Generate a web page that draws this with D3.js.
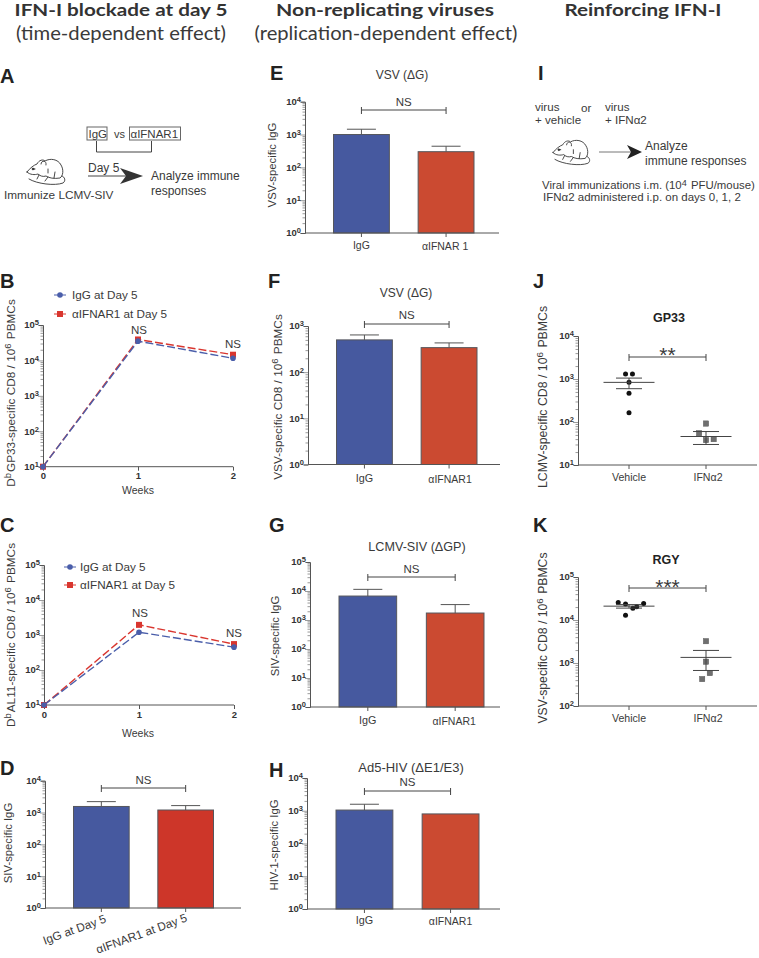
<!DOCTYPE html>
<html><head><meta charset="utf-8">
<script src="https://cdnjs.cloudflare.com/ajax/libs/d3/7.8.5/d3.min.js"></script>
<style>html,body{margin:0;background:#fff}svg{display:block}text{font-family:"Liberation Sans",Arial,sans-serif;fill:#3a3a3a}</style>
</head><body>
<svg id="c" width="759" height="958"></svg>
<script>
// ---------- data ----------
const weeks=[0,1,2];
const bIgG=[10,35000,11500];
const bAnti=[10,39000,14500];
const cIgG=[10,1200,450];
const cAnti=[10,1950,550];
const legendLabels=["IgG at Day 5","αIFNAR1 at Day 5"];
const dCats=["IgG at Day 5","αIFNAR1 at Day 5"];
const barCats=["IgG","αIFNAR1"];
const dValues=[1550,1200], dErrTop=[2200,1650];
const eValues=[1000,300], eErrTop=[1450,440];
const fValues=[500,340], fErrTop=[640,430];
const gValues=[6700,1740], gErrTop=[11400,3400];
const hValues=[1050,800], hErrTop=[1580,null];
const dotCats=["Vehicle","IFNα2"];
const jVehicle=[1300,1300,835,465,165];
const jVehicleX=[-0.045,0.045,0,0,0];
const jIfn=[92,55,38,40];
const jIfnX=[0,-0.09,0,0.1];
const jStats=[{mean:835,lo:595,hi:1050},{mean:46,lo:30,hi:60}];
const kVehicle=[25400,23700,24100,18800,20200,12900];
const kVehicleX=[-0.14,-0.045,0.19,0.05,0.1,-0.045];
const kIfn=[3220,1070,583,423];
const kIfnX=[0,0,0.05,-0.05];
const kStats=[{mean:21000,lo:18900,hi:22800},{mean:1350,lo:670,hi:1960}];

// ---------- palette ----------
const BLUE="#46599f",RED="#cb4a31",RED2="#cd3629",LBLUE="#4a5eaa",LRED="#d9362f",AX="#555";

const svg=d3.select("#c");
function T(x,y,s,o={}){
  const t=svg.append("text").attr("x",x).attr("y",y)
    .attr("font-size",o.size||11).attr("text-anchor",o.anchor||"start");
  if(o.weight)t.attr("font-weight",o.weight);
  if(o.family)t.style("font-family",o.family);
  if(o.fill)t.style("fill",o.fill);
  if(o.rot!=null)t.attr("transform",`rotate(${o.rot} ${x} ${y})`);
  if(o.len)t.attr("textLength",o.len).attr("lengthAdjust","spacingAndGlyphs");
  rich(t,s,o.size||11);
  return t;
}
function rich(t,s,size){
  s.split(/(\^.)/).forEach(p=>{
    if(!p)return;
    if(p[0]==="^"){t.append("tspan").attr("dy",-size*.3).attr("font-size",size*.8).text(p.slice(1));
      t.append("tspan").attr("dy",size*.3).text("\u200a");}
    else t.append("tspan").text(p);
  });
}
function logY(dom,range){return d3.scaleLog().domain(dom).range(range);}
function yAxis(g,y,x){
  const [lo,hi]=y.domain(),vals=[];
  for(let e=Math.round(Math.log10(lo));e<Math.round(Math.log10(hi));e++)
    for(let m=1;m<10;m++)vals.push(m*10**e);
  vals.push(hi);
  const major=v=>Math.abs(Math.log10(v)-Math.round(Math.log10(v)))<1e-9;
  const a=g.append("g").attr("transform",`translate(${x},0)`)
    .call(d3.axisLeft(y).tickValues(vals).tickSize(4).tickFormat(""));
  a.select(".domain").attr("stroke",AX).attr("stroke-width",1);
  a.selectAll(".tick line").attr("stroke",AX).attr("stroke-width",.6)
    .attr("x2",d=>major(d)?-5:-2.5);
  a.selectAll(".tick").filter(major).select("text").each(function(d){
    const t=d3.select(this).attr("x",-4).attr("dy","0.3em").attr("font-size",9.5)
      .attr("font-weight","bold").attr("text-anchor","end")
      .style("font-family",'"Liberation Sans",Arial,sans-serif').style("fill","#333");
    t.append("tspan").text("10");
    t.append("tspan").attr("dy",-3).attr("font-size",7.5).text(Math.round(Math.log10(d)));
  });
}
function bracket(x0,x1,y,label,ly,size){
  const g=svg.append("g").attr("stroke","#444").attr("stroke-width",1).attr("fill","none");
  g.append("path").attr("d",`M${x0},${y-3}V${y+4}M${x0},${y}H${x1}M${x1},${y-3}V${y+4}`);
  T((x0+x1)/2,ly,label,{anchor:"middle",size:size||11.5});
}
function barPanel(cfg,vals,errs,cats,col2){
  const y=logY([1,cfg.top],[cfg.y0,cfg.y1]);
  const x=d3.scaleBand().domain(cats).range(cfg.bars).paddingInner(.34);
  const g=svg.append("g");
  const c=[BLUE,col2||RED];
  g.selectAll("rect.bar").data(cats).join("rect").attr("class","bar")
    .attr("x",d=>x(d)).attr("width",x.bandwidth())
    .attr("y",(d,i)=>y(vals[i])).attr("height",(d,i)=>y(1)-y(vals[i]))
    .attr("fill",(d,i)=>c[i]).attr("stroke","#55565c").attr("stroke-width",1);
  cats.forEach((d,i)=>{
    const cx=x(d)+x.bandwidth()/2;
    g.append("line").attr("x1",cx).attr("x2",cx).attr("y1",y(1)).attr("y2",y(1)+4).attr("stroke",AX);
    if(errs[i]==null)return;
    g.append("path").attr("d",`M${cx},${y(vals[i])}V${y(errs[i])}M${cx-14.5},${y(errs[i])}H${cx+14.5}`)
      .attr("stroke","#555").attr("stroke-width",1).attr("fill","none");
  });
  g.append("line").attr("x1",cfg.ax).attr("x2",cfg.end).attr("y1",y(1)).attr("y2",y(1)).attr("stroke",AX).attr("stroke-width",1);
  yAxis(g,y,cfg.ax);
  const cs=cats.map(d=>x(d)+x.bandwidth()/2);
  bracket(cs[0],cs[1],cfg.brY,"NS",cfg.nsY);
  return cs;
}
function linePanel(cfg,s1,s2){
  const y=logY([10,1e5],[cfg.y0,cfg.y1]);
  const x=d3.scaleLinear().domain([0,2]).range(cfg.x);
  const g=svg.append("g");
  g.append("line").attr("x1",x(0)).attr("x2",x(2)).attr("y1",y(10)).attr("y2",y(10)).attr("stroke",AX).attr("stroke-width",1);
  yAxis(g,y,x(0));
  const a=d3.axisBottom(x).tickValues(weeks).tickSize(4).tickFormat(d3.format("d"));
  const xg=g.append("g").attr("transform",`translate(0,${y(10)})`).call(a);
  xg.select(".domain").remove();
  xg.selectAll("line").attr("stroke",AX);
  xg.selectAll("text").attr("font-size",9.5).attr("font-weight","bold").attr("y",6)
    .style("font-family",'"Liberation Sans",Arial,sans-serif').style("fill","#333");
  const ln=d3.line().x((d,i)=>x(weeks[i])).y(d=>y(d));
  g.append("path").attr("d",ln(s2)).attr("fill","none").attr("stroke",LRED).attr("stroke-width",1.4).attr("stroke-dasharray","8 3");
  g.selectAll("rect.m").data(s2).join("rect").attr("class","m").attr("fill",LRED)
    .attr("x",(d,i)=>x(weeks[i])-3).attr("y",d=>y(d)-3).attr("width",6).attr("height",6);
  g.append("path").attr("d",ln(s1)).attr("fill","none").attr("stroke",LBLUE).attr("stroke-width",1.4).attr("stroke-dasharray","8 3");
  g.selectAll("circle.m").data(s1).join("circle").attr("class","m").attr("fill",LBLUE)
    .attr("cx",(d,i)=>x(weeks[i])).attr("cy",d=>y(d)).attr("r",2.8);
  return {x,y};
}
function legend(xm,y1,y2,tx){
  const g=svg.append("g");
  g.append("line").attr("x1",xm-6).attr("x2",xm+6).attr("y1",y1).attr("y2",y1).attr("stroke",LBLUE);
  g.append("circle").attr("cx",xm).attr("cy",y1).attr("r",2.8).attr("fill",LBLUE);
  g.append("line").attr("x1",xm-6).attr("x2",xm+6).attr("y1",y2).attr("y2",y2).attr("stroke",LRED);
  g.append("rect").attr("x",xm-3).attr("y",y2-3).attr("width",6).attr("height",6).attr("fill",LRED);
  T(tx,y1+4,legendLabels[0],{size:11.7});
  T(tx,y2+4,legendLabels[1],{size:11.7});
}
function dotPanel(cfg,dom,a,ax,b,bx,stats){
  const y=logY(dom,[cfg.y0,cfg.y1]);
  const x=d3.scaleLinear().domain([0,1]).range(cfg.cx);
  const g=svg.append("g");
  g.append("line").attr("x1",cfg.ax).attr("x2",cfg.end).attr("y1",cfg.y0).attr("y2",cfg.y0).attr("stroke",AX);
  yAxis(g,y,cfg.ax);
  [0,1].forEach(i=>{
    const c=x(i);
    g.append("line").attr("x1",c).attr("x2",c).attr("y1",cfg.y0).attr("y2",cfg.y0+4).attr("stroke",AX);
  });
  g.selectAll("circle.p").data(a).join("circle").attr("class","p")
    .attr("cx",(d,i)=>x(ax[i])).attr("cy",d=>y(d)).attr("r",2.5).attr("fill","#111");
  g.selectAll("rect.p").data(b).join("rect").attr("class","p")
    .attr("x",(d,i)=>x(1+bx[i])-2.7).attr("y",d=>y(d)-2.7).attr("width",5.4).attr("height",5.4)
    .attr("fill","#6f6f6f").attr("stroke","#555").attr("stroke-width",.4);
  [0,1].forEach(i=>{
    const s=stats[i],c=x(i);
    g.append("path").attr("fill","none").attr("stroke","#444").attr("stroke-width",1)
      .attr("d",`M${c-25.5},${y(s.mean)}H${c+25.5}M${c-13},${y(s.lo)}H${c+13}M${c-13},${y(s.hi)}H${c+13}M${c},${y(s.lo)}V${y(s.hi)}`);
  });
  return x;
}
function mouse(tx,ty,k){
  const g=svg.append("g").attr("transform",`translate(${tx},${ty}) scale(${k})`)
    .attr("fill","none").attr("stroke","#333").attr("stroke-width",.9).attr("stroke-linecap","round");
  g.append("path").attr("d","M0,13 C3,9 7,6 10,5 C12,1 16,0 18,2 C23,-1 31,0 34,6 C37,11 36,17 33,19 C27,20 22,19 19,17 C16,18 13,17 11,15 C8,16 3,16 0,13Z");
  g.append("path").attr("d","M2,20 C10,25 28,27 36,24 C39,22 38,18 35,17");
  g.append("path").attr("d","M14,5 C14,1 20,1 19,6M6,10 l2,0M12,16 l-2,4M21,18 l-3,4M27,19 l1,-6M21,10 l0,4");
  g.append("circle").attr("cx",6).attr("cy",10).attr("r",.9).attr("fill","#333");
}

// ---------- column headers ----------
const TF='Lato,sans-serif';
[["IFN-I blockade at day 5",121,213],["Non-replicating viruses",385,218],["Reinforcing IFN-I",643,157]]
 .forEach(d=>T(d[1],16,d[0],{anchor:"middle",size:17.5,weight:"bold",family:TF,fill:"#333",len:d[2]}));
[["(time-dependent effect)",121,210],["(replication-dependent effect)",386,263]]
 .forEach(d=>T(d[1],40,d[0],{anchor:"middle",size:18.5,family:TF,fill:"#3a3a3a",len:d[2]}));
// ---------- panel letters ----------
[["A",0,83],["B",0,288],["C",0,532],["D",0,775],["E",270,80],["F",268,288],["G",269,532],["H",269,777],["I",538,80],["J",533,288],["K",533,532]]
 .forEach(d=>T(d[1],d[2],d[0],{size:20,weight:"bold",fill:"#222"}));

// ---------- A ----------
const box=(x,y,w,h)=>svg.append("rect").attr("x",x).attr("y",y).attr("width",w).attr("height",h).attr("fill","none").attr("stroke","#666").attr("stroke-width",1);
box(87,127,20,13);box(129.5,127,51,13);
T(88.5,137.5,"IgG",{size:11.5});T(114,137.5,"vs",{size:11});T(130.5,137.5,"αIFNAR1",{size:11.5});
svg.append("path").attr("d","M96.5,141V152H151.5V141").attr("fill","none").attr("stroke","#444");
T(88,172,"Day 5",{size:12});
svg.append("line").attr("x1",88).attr("x2",126).attr("y1",176).attr("y2",176).attr("stroke","#444");
svg.append("path").attr("d","M120,168L143,176L120,184L126,176Z").attr("fill","#333");
T(151,180,"Analyze immune",{size:12});T(151,195,"responses",{size:12});
T(4,199,"Immunize LCMV-SIV",{size:11.8});
mouse(27,159,1);

// ---------- B, C ----------
linePanel({y0:466.7,y1:325,x:[43,233]},bIgG,bAnti);
legend(60,295,314,72);
T(139,334,"NS",{anchor:"middle",size:11.5});T(233,348,"NS",{anchor:"middle",size:11.5});
T(138,494,"Weeks",{anchor:"middle",size:10.5});
T(14.5,393,"D^bGP33-specific CD8 / 10^6 PBMCs",{anchor:"middle",size:11.8,rot:-90});
linePanel({y0:705,y1:565,x:[44,234]},cIgG,cAnti);
legend(70,567,585,80);
T(140,617,"NS",{anchor:"middle",size:11.5});T(234,637,"NS",{anchor:"middle",size:11.5});
T(138,737,"Weeks",{anchor:"middle",size:10.5});
T(14.5,635,"D^bAL11-specific CD8 / 10^6 PBMCs",{anchor:"middle",size:11.8,rot:-90});

// ---------- D ----------
barPanel({top:1e4,y0:908,y1:780.7,bars:[73.5,213.5],ax:45,end:241,brY:788,nsY:784},dValues,dErrTop,dCats,RED2);
T(12,843,"SIV-specific IgG",{anchor:"middle",size:11.3,rot:-90});
T(107,922,dCats[0],{anchor:"end",size:11.8,rot:-20});
T(188,921,dCats[1],{anchor:"end",size:11.8,rot:-20});

// ---------- E F G H ----------
let cs;
cs=barPanel({top:1e4,y0:233,y1:101.7,bars:[333.5,474],ax:305,end:499,brY:110,nsY:106},eValues,eErrTop,barCats);
T(402,79,"VSV (ΔG)",{anchor:"middle",size:12});
T(276,165,"VSV-specific IgG",{anchor:"middle",size:11.3,rot:-90});
T(cs[0],249,"IgG",{anchor:"middle",size:10.5});T(cs[1]-1,250,"αIFNAR 1",{anchor:"middle",size:10.5});

cs=barPanel({top:1e3,y0:464.5,y1:326,bars:[336.5,477],ax:308,end:500,brY:324,nsY:319},fValues,fErrTop,barCats);
T(406,297,"VSV (ΔG)",{anchor:"middle",size:12});
T(282,397,"VSV-specific CD8 / 10^6 PBMCs",{anchor:"middle",size:11.8,rot:-90});
T(cs[0],482,"IgG",{anchor:"middle",size:10.8});T(cs[1]+1,483,"αIFNAR1",{anchor:"middle",size:10.5});

cs=barPanel({top:1e5,y0:707,y1:562,bars:[339,484],ax:310,end:500,brY:577,nsY:573},gValues,gErrTop,barCats);
T(417,551,"LCMV-SIV (ΔGP)",{anchor:"middle",size:12.6});
T(279,636,"SIV-specific IgG",{anchor:"middle",size:11.3,rot:-90});
T(cs[0],724,"IgG",{anchor:"middle",size:10.8});T(cs[1]-1,725,"αIFNAR1",{anchor:"middle",size:10.5});

cs=barPanel({top:1e4,y0:909,y1:778,bars:[336,479],ax:307,end:500,brY:791,nsY:786},hValues,hErrTop,barCats);
T(411,772,"Ad5-HIV (ΔE1/E3)",{anchor:"middle",size:13});
T(278,845,"HIV-1-specific IgG",{anchor:"middle",size:11.3,rot:-90});
T(cs[0],924,"IgG",{anchor:"middle",size:10.8});T(cs[1],925,"αIFNAR1",{anchor:"middle",size:10.5});

// ---------- I ----------
T(535,111,"virus",{size:11.6});T(581,112,"or",{size:11.6});T(605,111,"virus",{size:11.6});
T(535,124,"+ vehicle",{size:11.6});T(605,124,"+ IFNα2",{size:11.6});
mouse(553,140,.97);
svg.append("line").attr("x1",599).attr("x2",636).attr("y1",152).attr("y2",152).attr("stroke","#777").attr("stroke-width",1);
svg.append("path").attr("d","M627,145L642,152L627,159L631,152Z").attr("fill","#222");
T(645,150,"Analyze",{size:12});T(645,165,"immune responses",{size:12});
T(542,189,"Viral immunizations  i.m. (10^4 PFU/mouse)",{size:11.4});
T(543,201,"IFNα2 administered i.p. on days 0, 1, 2",{size:11.5});

// ---------- J, K ----------
let x;
x=dotPanel({y0:465,y1:336,ax:578,end:757,cx:[629,706]},[10,1e4],jVehicle,jVehicleX,jIfn,jIfnX,jStats);
T(669,322,"GP33",{anchor:"middle",size:12.5,weight:"bold",fill:"#222"});
bracket(x(0),x(1),357,"**",362,21);
T(547,397,"LCMV-specific CD8 / 10^6 PBMCs",{anchor:"middle",size:12.3,rot:-90});
T(x(0),481,dotCats[0],{anchor:"middle",size:10.6});T(x(1)+2,481,dotCats[1],{anchor:"middle",size:10.6});

x=dotPanel({y0:706,y1:577,ax:578,end:757,cx:[629,706]},[100,1e5],kVehicle,kVehicleX,kIfn,kIfnX,kStats);
T(666,564,"RGY",{anchor:"middle",size:12.5,weight:"bold",fill:"#222"});
bracket(x(0),x(1),588,"***",594,21);
T(547,638,"VSV-specific CD8 / 10^6 PBMCs",{anchor:"middle",size:12.2,rot:-90});
T(x(0),722,dotCats[0],{anchor:"middle",size:10.6});T(x(1)+2,722,dotCats[1],{anchor:"middle",size:10.6});
</script>
</body></html>
